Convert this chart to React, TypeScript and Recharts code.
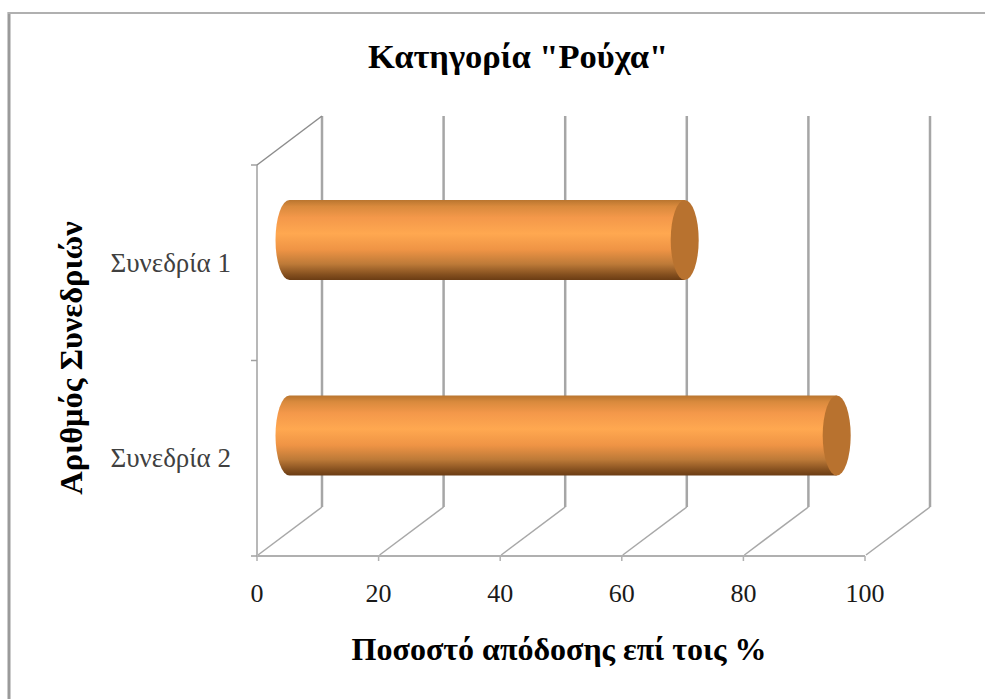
import React from "react";
import { BarChart, Bar, XAxis, YAxis, CartesianGrid } from "recharts";

const sessions = ["Συνεδρία 1", "Συνεδρία 2"];
const performance = [65, 90];
const xTicks = [0, 20, 40, 60, 80, 100];
const chartTitle = 'Κατηγορία "Ρούχα"';
const xTitle = "Ποσοστό απόδοσης επί τοις %";
const yTitle = "Αριθμός Συνεδριών";

const rows = sessions.map((name, i) => ({ name, value: performance[i] }));

const WIDTH = 985;
const HEIGHT = 699;
const TOP = 165;
const BOTTOM_H = 143;
const LEFT_W = 257;
const RIGHT_M = 120;
const PLOT_H = HEIGHT - TOP - BOTTOM_H;
const DX = 65;
const DY = 49;
const FONT = '"Liberation Serif", "Times New Roman", serif';

const WallLine = (props: any) => {
  const { x1, y1, y2 } = props;
  const top = Math.min(y1, y2);
  const bottom = Math.max(y1, y2);
  return (
    <g>
      <line x1={x1 + 1} y1={bottom - 1} x2={x1 + DX} y2={bottom - DY} stroke="#a8a8a8" strokeWidth={1.5} />
      <line x1={x1 + DX} y1={bottom - DY} x2={x1 + DX} y2={top - DY} stroke="#a6a6a6" strokeWidth={2.5} />
    </g>
  );
};

const XTick = (props: any) => {
  const { x, y, payload } = props;
  return (
    <g>
      <line x1={x} y1={y} x2={x} y2={y + 5} stroke="#b0b0b0" strokeWidth={1.5} />
      <text x={x} y={y + 46} textAnchor="middle" fontFamily={FONT} fontSize={26} fill="#1a1a1a">
        {payload.value}
      </text>
    </g>
  );
};

const YTick = (props: any) => {
  const { x, y, payload, index } = props;
  const half = PLOT_H / 4;
  return (
    <g>
      <line x1={x - 6} y1={y - half} x2={x} y2={y - half} stroke="#a0a0a0" strokeWidth={1.5} />
      {index === 1 && <line x1={x - 6} y1={y + half} x2={x} y2={y + half} stroke="#a0a0a0" strokeWidth={1.5} />}
      {index === 0 && <line x1={x} y1={y - half} x2={x + DX} y2={y - half - DY} stroke="#8c8c8c" strokeWidth={1.5} />}
      <text x={x - 26} y={y + 9} textAnchor="end" fontFamily={FONT} fontSize={27} fill="#404040">
        {payload.value}
      </text>
    </g>
  );
};

const Cylinder = (props: any) => {
  const { x, y, width, height } = props;
  const rx = 14;
  const ry = height / 2;
  const left = x + DX / 2;
  const right = left + width;
  const top = y - 23;
  const bot = top + height;
  return (
    <g>
      <path
        d={`M ${left} ${top} L ${right} ${top} L ${right} ${bot} L ${left} ${bot} A ${rx} ${ry} 0 0 1 ${left} ${top} Z`}
        fill="url(#cyl)"
      />
      <ellipse cx={right} cy={top + ry} rx={rx} ry={ry} fill="#b8722f" />
    </g>
  );
};

export default function App() {
  return (
    <div style={{ position: "absolute", left: 0, top: 0, width: WIDTH, height: HEIGHT, background: "#fff" }}>
      <BarChart
        width={WIDTH}
        height={HEIGHT}
        data={rows}
        layout="vertical"
        margin={{ top: TOP, right: RIGHT_M, bottom: 0, left: 0 }}
        barSize={80}
      >
        <defs>
          <linearGradient id="cyl" x1="0" y1="0" x2="0" y2="1">
            <stop offset="0%" stopColor="#b9752f" />
            <stop offset="8%" stopColor="#d98a3d" />
            <stop offset="22%" stopColor="#f4984a" />
            <stop offset="42%" stopColor="#ffa850" />
            <stop offset="62%" stopColor="#ef9445" />
            <stop offset="80%" stopColor="#bd7a38" />
            <stop offset="93%" stopColor="#85501f" />
            <stop offset="100%" stopColor="#6b3c14" />
          </linearGradient>
        </defs>
        <line x1={9} y1={12} x2={9} y2={HEIGHT} stroke="#9a9a9a" strokeWidth={3} />
        <line x1={8} y1={13} x2={WIDTH} y2={13} stroke="#b0b0b0" strokeWidth={2} />
        <text x={518} y={68} textAnchor="middle" fontFamily={FONT} fontSize={34.5} fontWeight="bold" fill="#000">
          {chartTitle}
        </text>
        <text x={559} y={660} textAnchor="middle" fontFamily={FONT} fontSize={32} fontWeight="bold" fill="#000">
          {xTitle}
        </text>
        <text
          x={82}
          y={358}
          textAnchor="middle"
          transform="rotate(-90 82 358)"
          fontFamily={FONT}
          fontSize={32.5}
          fontWeight="bold"
          fill="#000"
        >
          {yTitle}
        </text>
        <CartesianGrid horizontal={false} vertical={<WallLine />} />
        <XAxis
          type="number"
          domain={[0, 100]}
          ticks={xTicks}
          height={BOTTOM_H}
          tickSize={0}
          tickMargin={0}
          tick={<XTick />}
          tickLine={false}
          axisLine={{ stroke: "#b0b0b0", strokeWidth: 2 }}
        />
        <YAxis
          type="category"
          dataKey="name"
          width={LEFT_W}
          tickSize={0}
          tickMargin={0}
          tick={<YTick />}
          tickLine={false}
          axisLine={{ stroke: "#b8b8b8", strokeWidth: 2 }}
        />
        <Bar dataKey="value" shape={<Cylinder />} isAnimationActive={false} />
      </BarChart>
    </div>
  );
}
